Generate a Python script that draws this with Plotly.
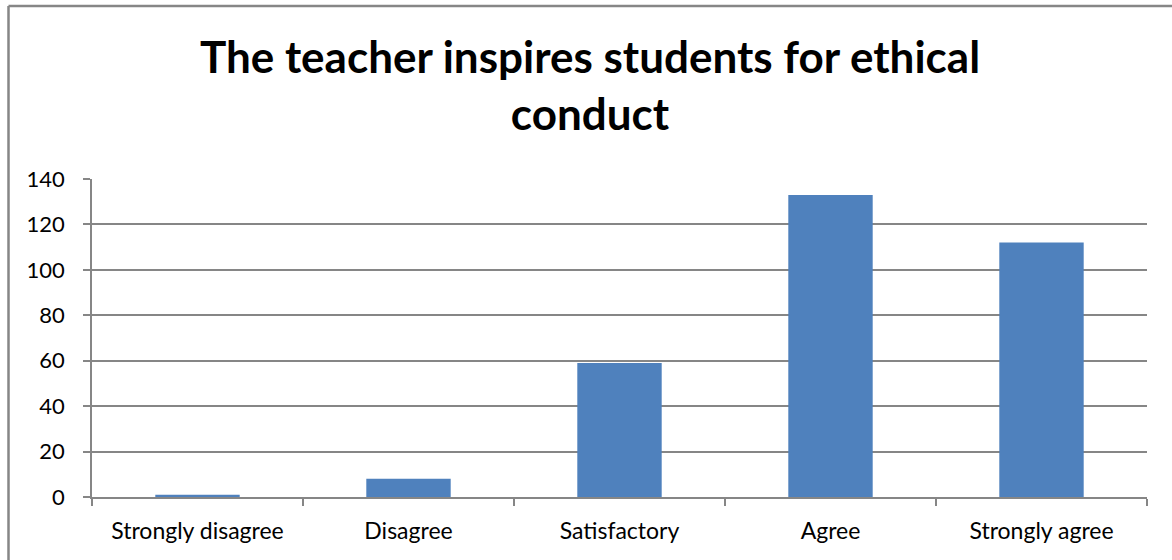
import plotly.graph_objects as go

categories = ["Strongly disagree", "Disagree", "Satisfactory", "Agree", "Strongly agree"]
values = [1, 8, 59, 133, 112]
y_ticks = [0, 20, 40, 60, 80, 100, 120, 140]
title_text = "The teacher inspires students for ethical<br>conduct"

W, H = 1172, 560
L, R, T, B = 92, 25, 179, 63
pw = W - L - R
ph = H - T - B

fig = go.Figure(go.Bar(x=categories, y=values, marker=dict(color="#4F81BD", line=dict(width=0)), width=0.4))

font = "Lato, Carlito, Calibri, sans-serif"
fig.update_layout(
    width=W, height=H,
    margin=dict(l=L, r=R, t=T, b=B),
    plot_bgcolor="white", paper_bgcolor="white",
    showlegend=False,
    font=dict(family=font, size=22, color="#000000"),
    title=dict(text="<b>" + title_text + "</b>", x=590 / W, xanchor="center", xref="container",
               y=1 - 73 / H, yanchor="middle", yref="container",
               font=dict(family=font, size=44, color="#000000")),
    xaxis=dict(showgrid=False, showline=True, linecolor="#868686", linewidth=1.5,
               ticks="outside", ticklen=7, tickcolor="#868686", tickwidth=1.5,
               tickson="boundaries", tickfont=dict(size=23), range=[-0.5, 4.5],
               ticklabelstandoff=13),
    yaxis=dict(range=[0, 140], tickvals=y_ticks, showgrid=True, gridcolor="#868686", gridwidth=1.5,
               showline=True, linecolor="#868686", linewidth=1.5, ticks="outside", ticklen=7,
               tickcolor="#868686", tickwidth=1.5, zeroline=False, tickfont=dict(size=22),
               ticklabelstandoff=14),
    bargap=0.6,
)

# outer chart border (left and top edges visible)
bx = (8.5 - L) / pw
by = (H - B - 6) / ph
fig.add_shape(type="line", xref="paper", yref="paper", x0=bx, x1=bx, y0=by, y1=-1,
              line=dict(color="#868686", width=2.5))
fig.add_shape(type="line", xref="paper", yref="paper", x0=bx, x1=1.2, y0=by, y1=by,
              line=dict(color="#868686", width=2.5))

fig.write_html("out.html", config={"displayModeBar": False},
               post_script="document.body.style.margin='0';document.body.style.overflow='hidden';")
